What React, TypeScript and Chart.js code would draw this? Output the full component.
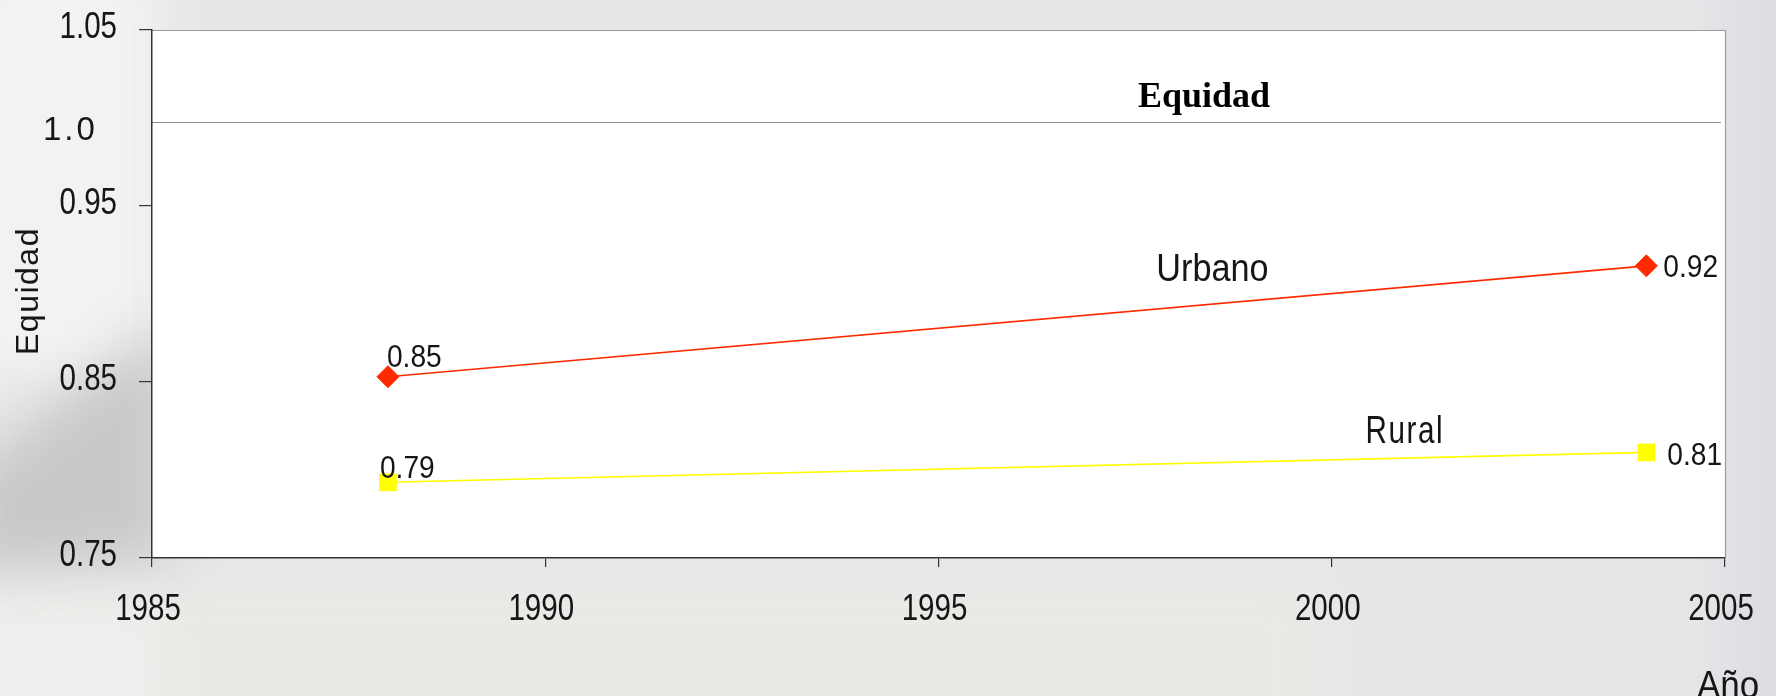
import React, { useEffect, useRef } from "react";
import { Chart, registerables } from "chart.js";

Chart.register(...registerables);

// ---- data ----
const years = [1988, 2004];
const urbanoValues = [0.853, 0.916];
const ruralValues = [0.793, 0.81];
const urbanoLabels = ["0.85", "0.92"];
const ruralLabels = ["0.79", "0.81"];
const yTickValues = [0.75, 0.85, 0.95, 1.05];
const yTickLabels = ["0.75", "0.85", "0.95", "1.05"];
const xTickValues = [1985, 1990, 1995, 2000, 2005];
const xTickLabels = ["1985", "1990", "1995", "2000", "2005"];
const referenceValue = 0.998;
const referenceLabel = "1.0";
const seriesNames = ["Urbano", "Rural"];
const chartTitle = "Equidad";
const yAxisTitle = "Equidad";
const xAxisTitle = "Año";

const SANS = "'Liberation Sans', Arial, sans-serif";
const SERIF = "'Liberation Serif', 'Times New Roman', serif";
const INK = "#161616";

type TOpt = {
  font: string;
  align?: CanvasTextAlign;
  sx?: number;
  spacing?: number;
  rotate?: number;
  color?: string;
};

function drawText(ctx: CanvasRenderingContext2D, s: string, x: number, y: number, o: TOpt) {
  ctx.save();
  ctx.translate(x, y);
  if (o.rotate) ctx.rotate(o.rotate);
  ctx.scale(o.sx ?? 1, 1);
  ctx.font = o.font;
  ctx.textAlign = o.align ?? "left";
  ctx.textBaseline = "alphabetic";
  (ctx as any).letterSpacing = (o.spacing ?? 0) + "px";
  ctx.fillStyle = o.color ?? INK;
  ctx.fillText(s, 0, 0);
  ctx.restore();
}

const decor = {
  id: "decor",
  beforeDraw(chart: any) {
    const { ctx, width, height, chartArea: a } = chart;
    ctx.save();
    ctx.fillStyle = "#e7e7e9";
    ctx.fillRect(0, 0, width, height);
    ctx.filter = "blur(26px)";
    ctx.fillStyle = "#f1f2f3";
    ctx.fillRect(-40, -40, 200, 420);
    ctx.fillStyle = "#ebe9e6";
    ctx.fillRect(-40, 575, 1360, 200);
    ctx.fillStyle = "#dcdde2";
    ctx.fillRect(a.right, -40, 120, height + 80);
    ctx.fillStyle = "#c8c8c8";
    ctx.beginPath();
    ctx.moveTo(-40, 480);
    ctx.lineTo(170, 320);
    ctx.lineTo(170, 560);
    ctx.lineTo(-40, 570);
    ctx.closePath();
    ctx.fill();
    ctx.fillStyle = "#efefee";
    ctx.fillRect(-40, 610, 200, 120);
    ctx.filter = "none";

    // plot area
    ctx.fillStyle = "#ffffff";
    ctx.fillRect(a.left, a.top, a.right - a.left, a.bottom - a.top);
    ctx.strokeStyle = "#9a9a9a";
    ctx.lineWidth = 1.2;
    ctx.beginPath();
    ctx.moveTo(a.left, a.top + 0.5);
    ctx.lineTo(a.right + 0.5, a.top + 0.5);
    ctx.lineTo(a.right + 0.5, a.bottom);
    ctx.stroke();

    // reference line
    const ry = Math.round(chart.scales.y.getPixelForValue(referenceValue)) + 0.5;
    ctx.strokeStyle = "#8f8f8f";
    ctx.lineWidth = 1.2;
    ctx.beginPath();
    ctx.moveTo(a.left, ry);
    ctx.lineTo(a.right - 4, ry);
    ctx.stroke();
    ctx.restore();
  },
  afterDraw(chart: any) {
    const { ctx, chartArea: a, scales } = chart;
    const xs = scales.x;
    const ys = scales.y;

    // y tick labels
    yTickValues.forEach((v, i) => {
      const py = ys.getPixelForValue(v);
      drawText(ctx, yTickLabels[i], a.left - 35, py + 8, { font: `36px ${SANS}`, align: "right", sx: 0.82 });
    });
    // x tick labels
    xTickValues.forEach((v, i) => {
      const px = xs.getPixelForValue(v);
      drawText(ctx, xTickLabels[i], px - 4, a.bottom + 62, { font: `36px ${SANS}`, align: "center", sx: 0.82 });
    });

    // reference label
    const ry = ys.getPixelForValue(referenceValue);
    drawText(ctx, referenceLabel, 43, ry + 18, { font: `33px ${SANS}`, spacing: 3 });

    // data labels
    const uMeta = chart.getDatasetMeta(0).data;
    const rMeta = chart.getDatasetMeta(1).data;
    const lab = { font: `32px ${SANS}`, sx: 0.88 };
    drawText(ctx, urbanoLabels[0], uMeta[0].x - 1, uMeta[0].y - 10, lab);
    drawText(ctx, urbanoLabels[1], uMeta[1].x + 17, uMeta[1].y + 11, lab);
    drawText(ctx, ruralLabels[0], rMeta[0].x - 8, rMeta[0].y - 4, lab);
    drawText(ctx, ruralLabels[1], rMeta[1].x + 21, rMeta[1].y + 13, lab);

    // series names
    drawText(ctx, seriesNames[0], xs.getPixelForValue(1997.77), ys.getPixelForValue(0.9074), {
      font: `38px ${SANS}`,
      sx: 0.9,
    });
    drawText(ctx, seriesNames[1], xs.getPixelForValue(2000.43), ys.getPixelForValue(0.8156), {
      font: `38px ${SANS}`,
      sx: 0.78,
      spacing: 2,
    });

    // chart title
    drawText(ctx, chartTitle, a.left + 986, a.top + 77, { font: `bold 36px ${SERIF}`, color: "#000" });

    // axis titles
    drawText(ctx, yAxisTitle, 38, 291, {
      font: `32px ${SANS}`,
      align: "center",
      spacing: 1.5,
      rotate: -Math.PI / 2,
    });
    drawText(ctx, xAxisTitle, 1697, 698, { font: `38px ${SANS}`, sx: 0.92 });
  },
};

export default function App() {
  const ref = useRef<HTMLCanvasElement | null>(null);

  useEffect(() => {
    if (!ref.current) return;
    const chart = new Chart(ref.current, {
      type: "line",
      data: {
        datasets: [
          {
            label: seriesNames[0],
            data: years.map((x, i) => ({ x, y: urbanoValues[i] })),
            borderColor: "#ff2a00",
            backgroundColor: "#ff2a00",
            borderWidth: 1.6,
            pointStyle: "rectRot",
            pointRadius: 11,
            pointBorderWidth: 1,
            pointBackgroundColor: "#ff2a00",
            pointBorderColor: "#ff2a00",
            tension: 0,
          },
          {
            label: seriesNames[1],
            data: years.map((x, i) => ({ x, y: ruralValues[i] })),
            borderColor: "#ffff00",
            backgroundColor: "#ffff00",
            borderWidth: 1.6,
            pointStyle: "rect",
            pointRadius: 12.5,
            pointBorderWidth: 0,
            pointBackgroundColor: "#ffff00",
            pointBorderColor: "#ffff00",
            tension: 0,
          },
        ],
      },
      options: {
        animation: false,
        responsive: false,
        events: [],
        layout: { padding: { top: 30, right: 51, left: 0, bottom: 0 } },
        plugins: {
          legend: { display: false },
          tooltip: { enabled: false },
          title: { display: false },
        },
        scales: {
          x: {
            type: "linear",
            min: xTickValues[0],
            max: xTickValues[xTickValues.length - 1],
            afterBuildTicks: (s: any) => {
              s.ticks = xTickValues.map((value) => ({ value }));
            },
            ticks: { display: false },
            grid: { drawOnChartArea: false, drawTicks: true, tickLength: 9, color: "#333", lineWidth: 1.2 },
            border: { display: true, color: "#333", width: 1.5 },
            afterFit: (s: any) => {
              s.height = 138;
            },
          },
          y: {
            type: "linear",
            min: yTickValues[0],
            max: yTickValues[yTickValues.length - 1],
            afterBuildTicks: (s: any) => {
              s.ticks = yTickValues.map((value) => ({ value }));
            },
            ticks: { display: false },
            grid: { drawOnChartArea: false, drawTicks: true, tickLength: 13, color: "#333", lineWidth: 1.2 },
            border: { display: true, color: "#333", width: 1.5 },
            afterFit: (s: any) => {
              s.width = 152;
            },
          },
        },
      },
      plugins: [decor],
    });
    return () => chart.destroy();
  }, []);

  return (
    <div style={{ position: "fixed", left: 0, top: 0, width: 1776, height: 696 }}>
      <canvas ref={ref} width={1776} height={696} style={{ display: "block" }} />
    </div>
  );
}
